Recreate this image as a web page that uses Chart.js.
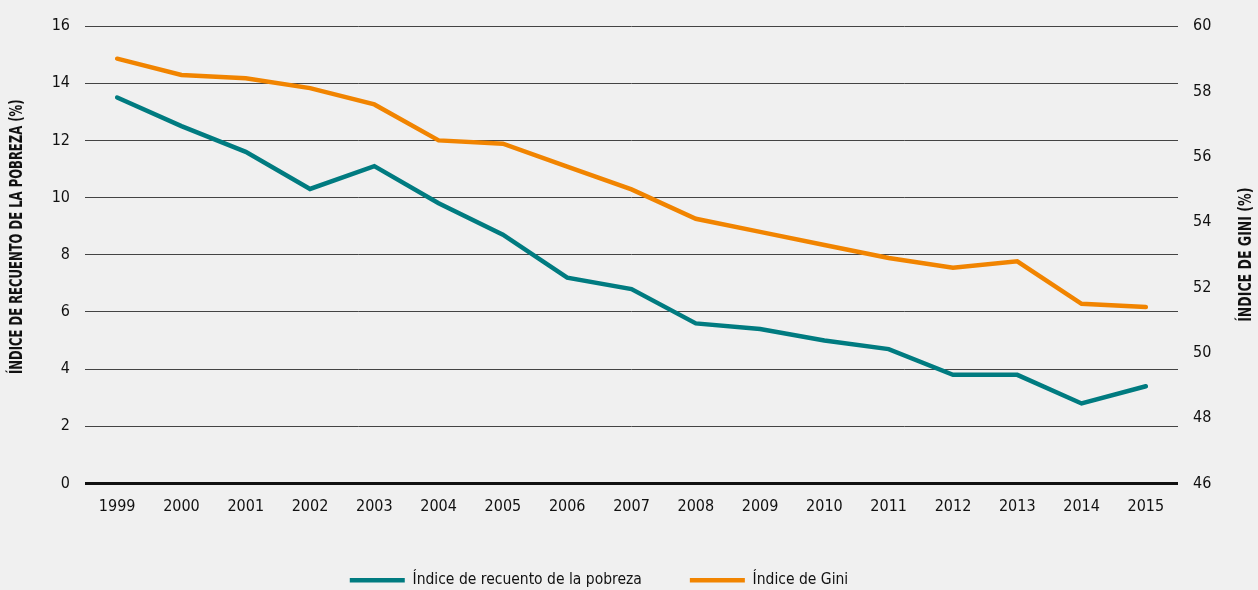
<!DOCTYPE html>
<html lang="es">
<head>
<meta charset="utf-8">
<title>Pobreza y desigualdad 1999-2015</title>
<script src="https://cdn.jsdelivr.net/npm/chart.js@4.4.1/dist/chart.umd.min.js"></script>
<style>
  html, body { margin: 0; padding: 0; background: #f0f0f0; }
  #wrap { width: 1258px; height: 590px; position: relative; }
</style>
</head>
<body>
<div id="wrap"><canvas id="myChart"></canvas></div>
<script>
const years = ["1999", "2000", "2001", "2002", "2003", "2004", "2005", "2006", "2007",
  "2008", "2009", "2010", "2011", "2012", "2013", "2014", "2015"];
const pobreza = [13.5, 12.5, 11.6, 10.3, 11.1, 9.8, 8.7, 7.2, 6.8, 5.6, 5.4, 5.0, 4.7, 3.8, 3.8, 2.8, 3.4];
const gini = [59.0, 58.5, 58.4, 58.1, 57.6, 56.5, 56.4, 55.7, 55.0, 54.1, 53.7, 53.3, 52.9, 52.6, 52.8, 51.5, 51.4];
const leftTitle = "ÍNDICE DE RECUENTO DE LA POBREZA (%)";
const rightTitle = "ÍNDICE DE GINI (%)";

const FONT = "'DejaVu Sans Condensed', 'Liberation Sans Narrow', sans-serif";
const INK = "#111";

// vertical title, squeezed a little so it reads like a condensed face
function drawVerticalTitle(c, text, x, y, squeeze) {
  c.save();
  c.fillStyle = INK;
  c.font = "bold 17px " + FONT;
  c.textAlign = "center";
  c.textBaseline = "middle";
  c.translate(x, y);
  c.rotate(-Math.PI / 2);
  c.scale(squeeze, 1);
  c.fillText(text, 0, 0);
  c.restore();
}

// both axis titles read bottom-to-top, so they are drawn here
const axisTitles = {
  id: "axisTitles",
  afterLayout(chart) {
    // legend sits a bit left of centre
    chart.legend.left -= 30;
    chart.legend.right -= 30;
  },
  afterDraw(chart) {
    const mid = (chart.chartArea.top + chart.chartArea.bottom) / 2;
    drawVerticalTitle(chart.ctx, leftTitle, 18, mid - 18, 0.76);
    drawVerticalTitle(chart.ctx, rightTitle, 1247, mid, 0.82);
  },
};

const ctx = document.getElementById("myChart");

new Chart(ctx, {
  type: "line",
  data: {
    labels: years,
    datasets: [
      {
        label: "Índice de recuento de la pobreza",
        data: pobreza,
        yAxisID: "y",
        borderColor: "#007b80",
        backgroundColor: "#007b80",
        borderWidth: 4.5,
        borderCapStyle: "round",
        pointRadius: 0,
        tension: 0,
      },
      {
        label: "Índice de Gini",
        data: gini,
        yAxisID: "y1",
        borderColor: "#f18400",
        backgroundColor: "#f18400",
        borderWidth: 4.5,
        borderCapStyle: "round",
        pointRadius: 0,
        tension: 0,
      },
    ],
  },
  plugins: [axisTitles],
  options: {
    responsive: true,
    maintainAspectRatio: false,
    animation: false,
    layout: {
      padding: { top: 26, bottom: -8, left: 0, right: 0 },
    },
    plugins: {
      tooltip: { enabled: false },
      legend: {
        position: "bottom",
        labels: {
          usePointStyle: true,
          pointStyle: "line",
          pointStyleWidth: 55,
          boxHeight: 15,
          padding: 48,
          color: INK,
          font: { family: FONT, size: 15.5 },
        },
      },
    },
    scales: {
      x: {
        offset: true,
        afterFit(scale) {
          scale.height = 41;
        },
        grid: { display: false, drawTicks: false },
        border: { display: false },
        ticks: {
          padding: 14,
          color: INK,
          maxRotation: 0,
          autoSkip: false,
          font: { family: FONT, size: 16 },
        },
      },
      y: {
        position: "left",
        min: 0,
        max: 16,
        afterFit(scale) {
          scale.width = 85;
        },
        border: { display: false },
        grid: {
          drawTicks: false,
          color: (c) => (c.tick && c.tick.value === 0 ? "#111" : "#444"),
          lineWidth: (c) => (c.tick && c.tick.value === 0 ? 3 : 1),
        },
        ticks: {
          stepSize: 2,
          padding: 15,
          color: INK,
          font: { family: FONT, size: 16 },
        },
      },
      y1: {
        position: "right",
        min: 46,
        max: 60,
        afterFit(scale) {
          scale.width = 80;
        },
        border: { display: false },
        grid: { display: false, drawTicks: false },
        ticks: {
          stepSize: 2,
          padding: 15,
          color: INK,
          font: { family: FONT, size: 16 },
        },
      },
    },
  },
});
</script>
</body>
</html>
